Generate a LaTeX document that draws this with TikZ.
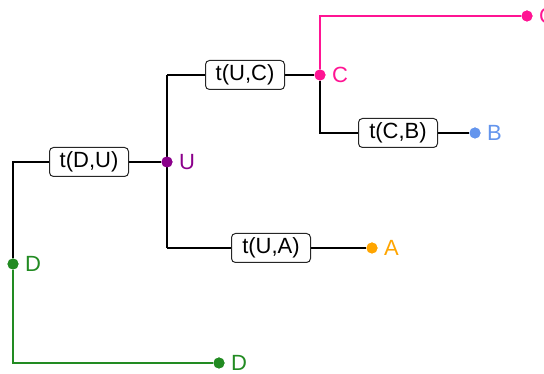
\documentclass[tikz,border=0pt]{standalone}
\usepackage{fontspec}
\setmainfont{Liberation Sans}
\begin{document}
\begin{tikzpicture}[x=1pt,y=1pt,
  font=\fontsize{22}{24}\selectfont,
  edge/.style={line width=2pt},
  lbox/.style={draw=black!85,line width=1pt,rounded corners=4pt,fill=white,
    minimum width=79pt,minimum height=29pt,inner sep=0pt},
  tip/.style={circle,fill=#1,inner sep=0pt,minimum size=11pt},
  tlabel/.style={text=#1,anchor=west,inner sep=0pt}]
\definecolor{cpink}{RGB}{255,20,147}
\definecolor{cpurple}{RGB}{139,0,139}
\definecolor{cgreen}{RGB}{34,139,34}
\definecolor{cblue}{RGB}{100,149,237}
\definecolor{corange}{RGB}{255,165,0}
\useasboundingbox (0,0) rectangle (544,374);

% junctions and bends
\coordinate (dtop) at (13,212);
\coordinate (ubend) at (167,299);
\coordinate (ubot) at (167,126);
\coordinate (cup) at (320,358);
\coordinate (cdown) at (320,241);
\coordinate (dbot) at (13,11);

% inner nodes
\node[tip=cgreen] (D) at (13,110) {};
\node[tip=cpurple] (U) at (167,212) {};
\node[tip=cpink] (C) at (320,299) {};

% leaves
\node[tip=cpink] (C2) at (527,358) {};
\node[tip=cblue] (B) at (475,241) {};
\node[tip=corange] (A) at (372,126) {};
\node[tip=cgreen] (D2) at (219,11) {};

% black tree edges
\draw[edge] (D) -- (dtop) -- (U);
\draw[edge] (ubend) -- (ubot);
\draw[edge] (ubend) -- (C);
\draw[edge] (ubot) -- (A);
\draw[edge] (C) -- (cdown) -- (B);

% coloured leaf edges
\draw[edge,cpink] (C) -- (cup) -- (C2);
\draw[edge,cgreen] (D) -- (dbot) -- (D2);

% redraw the dots above the lines
\node[tip=cgreen] at (D) {};
\node[tip=cpurple] at (U) {};
\node[tip=cpink] at (C) {};
\node[tip=cpink] at (C2) {};
\node[tip=cblue] at (B) {};
\node[tip=corange] at (A) {};
\node[tip=cgreen] at (D2) {};

% edge labels
\node[lbox] (eDU) at (89,212) {t(D,U)};
\node[lbox] (eUC) at (245,299) {t(U,C)};
\node[lbox] (eCB) at (398,241) {t(C,B)};
\node[lbox] (eUA) at (271,126) {t(U,A)};

% node labels
\node[tlabel=cgreen] at ([xshift=12pt]D.center) {D};
\node[tlabel=cpurple] at ([xshift=12pt]U.center) {U};
\node[tlabel=cpink] at ([xshift=12pt]C.center) {C};
\node[tlabel=cpink] at ([xshift=12pt]C2.center) {C};
\node[tlabel=cblue] at ([xshift=12pt]B.center) {B};
\node[tlabel=corange] at ([xshift=12pt]A.center) {A};
\node[tlabel=cgreen] at ([xshift=12pt]D2.center) {D};
\end{tikzpicture}
\end{document}
